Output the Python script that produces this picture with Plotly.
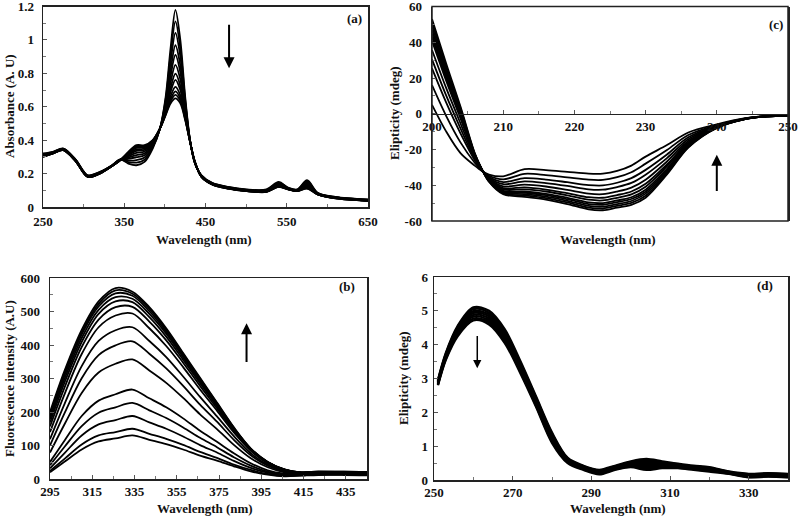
import plotly.graph_objects as go

# ---------------- Panel (a): UV-Vis absorbance ----------------
A_WL = [250, 262, 275, 290, 305, 320, 335, 345, 355, 365, 375, 385, 394, 401, 407, 413,
        419, 425, 431, 437, 445, 458, 478, 500, 525, 540, 552, 563, 575, 588, 610, 650]
A_CURVES = [
    [.32, .33, .35, .285, .19, .21, .25, .285, .26, .25, .27, .35, .47, .66, .95, 1.18, 1.0, .66, .40, .26, .19, .145, .12, .105, .105, .15, .115, .105, .16, .085, .06, .045],
    [.317, .329, .349, .284, .189, .209, .249, .284, .269, .266, .283, .357, .47, .646, .907, 1.111, .951, .642, .399, .261, .189, .144, .119, .104, .103, .146, .114, .104, .154, .084, .059, .044],
    [.315, .327, .347, .282, .187, .207, .249, .284, .278, .281, .296, .363, .47, .631, .864, 1.042, .901, .624, .397, .263, .187, .142, .117, .102, .101, .142, .112, .102, .147, .082, .058, .043],
    [.312, .326, .346, .281, .186, .206, .248, .283, .288, .298, .31, .37, .47, .616, .818, .968, .848, .604, .396, .264, .186, .141, .116, .101, .099, .138, .111, .101, .14, .081, .057, .042],
    [.31, .325, .345, .28, .185, .205, .247, .282, .296, .311, .321, .376, .47, .604, .782, .91, .806, .589, .395, .265, .185, .14, .115, .1, .097, .135, .11, .1, .134, .08, .056, .041],
    [.308, .324, .344, .279, .184, .204, .247, .282, .303, .324, .332, .381, .47, .592, .745, .851, .764, .573, .394, .266, .184, .139, .114, .099, .096, .131, .109, .099, .129, .079, .055, .04],
    [.306, .323, .343, .278, .183, .203, .246, .281, .31, .336, .342, .386, .47, .581, .712, .798, .726, .559, .393, .267, .183, .138, .113, .098, .094, .128, .108, .098, .124, .078, .054, .039],
    [.304, .322, .342, .277, .182, .202, .246, .281, .315, .345, .349, .39, .47, .573, .689, .761, .70, .549, .392, .268, .182, .137, .112, .097, .093, .126, .107, .097, .12, .077, .054, .039],
    [.303, .321, .341, .276, .181, .201, .246, .281, .321, .354, .357, .394, .47, .564, .663, .719, .669, .538, .391, .269, .181, .136, .111, .096, .092, .124, .106, .096, .117, .076, .053, .038],
    [.302, .321, .341, .276, .181, .201, .245, .28, .324, .36, .362, .396, .47, .559, .646, .692, .65, .531, .391, .269, .181, .136, .111, .096, .091, .122, .106, .096, .114, .076, .053, .038],
    [.301, .32, .34, .275, .18, .20, .245, .28, .327, .365, .366, .398, .47, .554, .633, .671, .635, .526, .39, .27, .18, .135, .11, .095, .091, .121, .105, .095, .112, .075, .052, .037],
    [.30, .32, .34, .275, .18, .20, .245, .28, .33, .37, .37, .40, .47, .55, .62, .65, .62, .52, .39, .27, .18, .135, .11, .095, .09, .12, .105, .095, .11, .075, .052, .037],
]
A_YTICKS = [0, 0.2, 0.4, 0.6, 0.8, 1.0, 1.2]
A_YTEXT = ["0", "0.2", "0.4", "0.6", "0.8", "1", "1.2"]

# ---------------- Panel (c): far-UV CD ----------------
C_WL = [200, 202, 204, 206, 207, 208, 210, 213, 216, 219, 222, 224, 226, 228, 230, 233, 236, 240, 244, 247, 250]
C_CURVES = [
    [53, 28, 4, -22, -31, -38, -45, -46.5, -48, -50.5, -53.5, -54, -52.5, -51, -47, -34, -19, -8, -3, -1.5, -1],
    [51.1, 26.5, 3.0, -22.3, -31.0, -37.8, -44.5, -45.7, -47.2, -49.6, -52.5, -53.0, -51.5, -49.9, -45.9, -33.2, -18.6, -7.9, -3.0, -1.5, -1],
    [48.9, 24.8, 1.8, -22.6, -31.1, -37.6, -44.0, -45.0, -46.4, -48.7, -51.5, -52.0, -50.5, -48.8, -44.7, -32.4, -18.2, -7.8, -3.0, -1.5, -1],
    [46.8, 23.1, 0.6, -22.9, -31.1, -37.4, -43.5, -44.2, -45.5, -47.8, -50.5, -50.9, -49.4, -47.7, -43.6, -31.5, -17.7, -7.7, -2.9, -1.5, -1],
    [44.8, 21.5, -0.4, -23.2, -31.2, -37.2, -43.1, -43.5, -44.8, -47.0, -49.6, -50.0, -48.5, -46.7, -42.5, -30.8, -17.3, -7.6, -2.9, -1.5, -1],
    [42.9, 20.0, -1.5, -23.5, -31.2, -36.9, -42.3, -42.3, -43.5, -45.6, -48.1, -48.5, -47.0, -45.1, -40.8, -29.5, -16.7, -7.5, -2.9, -1.4, -1],
    [40.8, 18.3, -2.6, -23.8, -31.3, -36.6, -41.6, -41.2, -42.4, -44.4, -46.7, -47.0, -45.5, -43.5, -39.2, -28.4, -16.1, -7.3, -2.8, -1.4, -1],
    [35.7, 14.3, -5.4, -24.5, -31.4, -36.2, -40.6, -39.7, -40.7, -42.6, -44.7, -45.0, -43.5, -41.3, -36.9, -26.7, -15.3, -7.1, -2.8, -1.4, -1],
    [30.4, 10.1, -8.2, -25.3, -31.5, -35.8, -39.4, -37.8, -38.8, -40.4, -42.3, -42.5, -41.0, -38.7, -34.1, -24.8, -14.2, -6.9, -2.7, -1.4, -1],
    [25.4, 6.2, -11.0, -26.0, -31.6, -35.3, -38.2, -36.0, -36.8, -38.3, -39.9, -40.1, -38.6, -36.0, -31.4, -22.8, -13.2, -6.6, -2.7, -1.4, -1],
    [16.0, -1.3, -16.0, -27.4, -31.8, -34.7, -36.7, -33.6, -34.3, -35.6, -36.9, -37.0, -35.5, -32.7, -27.9, -20.3, -11.9, -6.3, -2.6, -1.3, -1],
    [5, -10, -22, -29, -32, -34, -35, -31, -31.5, -32.5, -33.5, -33.5, -32, -29, -24, -17.5, -10.5, -6, -2.5, -1.3, -1],
]
C_YTICKS = [-60, -40, -20, 0, 20, 40, 60]
C_YTEXT = ["-60", "-40", "-20", "0", "20", "40", "60"]

# ---------------- Panel (b): fluorescence ----------------
B_WL = [295, 302, 310, 318, 326, 334, 342, 350, 358, 366, 374, 382, 390, 398, 406, 414, 422, 434, 445]
B_CURVES = [
    [20, 52, 88, 112, 121, 130, 117, 104, 88, 70, 55, 38, 23, 13, 8, 10, 12, 12, 11],
    [24, 61, 103, 130, 140, 150, 135, 120, 102, 81, 63, 43, 27, 15, 9, 11, 13, 13, 12],
    [32, 78, 130, 163, 176, 188, 169, 150, 127, 101, 79, 54, 33, 19, 11, 12, 14, 14, 13],
    [41, 97, 158, 198, 214, 227, 205, 182, 154, 123, 95, 65, 40, 22, 13, 13, 15, 15, 14],
    [51, 116, 188, 234, 253, 267, 241, 214, 181, 144, 111, 77, 47, 26, 16, 14, 16, 16, 15],
    [79, 165, 257, 318, 344, 357, 324, 287, 242, 193, 149, 102, 62, 35, 20, 15, 17, 17, 16],
    [100, 198, 301, 370, 399, 411, 374, 330, 278, 222, 171, 117, 71, 40, 23, 16, 18, 18, 17],
    [119, 226, 337, 412, 444, 453, 412, 364, 306, 245, 187, 128, 77, 43, 25, 17, 19, 18, 17],
    [140, 255, 373, 453, 488, 494, 450, 397, 334, 267, 204, 139, 84, 47, 27, 18, 19, 19, 18],
    [157, 275, 394, 476, 513, 514, 470, 414, 347, 278, 211, 144, 86, 48, 27, 18, 20, 20, 19],
    [169, 290, 409, 493, 530, 528, 483, 425, 356, 286, 217, 147, 88, 49, 28, 19, 21, 20, 19],
    [179, 301, 421, 505, 543, 538, 493, 434, 363, 291, 221, 149, 89, 50, 28, 19, 21, 21, 20],
    [187, 311, 431, 515, 554, 547, 501, 440, 368, 296, 224, 151, 90, 51, 28, 20, 22, 21, 20],
    [194, 319, 438, 523, 563, 553, 508, 446, 373, 299, 226, 153, 91, 51, 28, 20, 22, 22, 21],
    [200, 325, 445, 530, 570, 559, 513, 450, 376, 302, 228, 154, 91, 51, 29, 20, 22, 22, 21],
]

# ---------------- Panel (d): near-UV CD ----------------
D_WL = [251, 253, 256, 260, 264, 268, 272, 276, 280, 284, 288, 292, 296, 300, 304, 308, 312, 316, 320, 325, 330, 335, 340]
D_CURVES = [
    [2.95, 3.75, 4.55, 5.10, 5.00, 4.45, 3.50, 2.45, 1.40, 0.65, 0.42, 0.30, 0.42, 0.55, 0.62, 0.55, 0.48, 0.42, 0.38, 0.25, 0.18, 0.20, 0.18],
    [2.93, 3.72, 4.51, 5.05, 4.94, 4.39, 3.45, 2.41, 1.36, 0.63, 0.40, 0.28, 0.40, 0.53, 0.57, 0.52, 0.46, 0.40, 0.36, 0.24, 0.17, 0.19, 0.17],
    [2.91, 3.69, 4.46, 4.99, 4.89, 4.34, 3.40, 2.36, 1.31, 0.61, 0.39, 0.26, 0.39, 0.50, 0.53, 0.49, 0.44, 0.39, 0.34, 0.23, 0.15, 0.17, 0.15],
    [2.89, 3.66, 4.42, 4.94, 4.83, 4.28, 3.35, 2.32, 1.27, 0.59, 0.37, 0.24, 0.37, 0.48, 0.48, 0.46, 0.42, 0.37, 0.32, 0.22, 0.14, 0.16, 0.14],
    [2.86, 3.64, 4.38, 4.88, 4.77, 4.22, 3.30, 2.28, 1.23, 0.56, 0.35, 0.23, 0.35, 0.45, 0.44, 0.44, 0.41, 0.35, 0.31, 0.21, 0.12, 0.14, 0.12],
    [2.84, 3.61, 4.34, 4.83, 4.71, 4.16, 3.25, 2.24, 1.19, 0.54, 0.33, 0.21, 0.33, 0.43, 0.39, 0.41, 0.39, 0.33, 0.29, 0.20, 0.11, 0.13, 0.11],
    [2.82, 3.58, 4.29, 4.77, 4.66, 4.11, 3.20, 2.19, 1.14, 0.52, 0.32, 0.19, 0.32, 0.40, 0.35, 0.38, 0.37, 0.32, 0.27, 0.19, 0.09, 0.11, 0.09],
    [2.80, 3.55, 4.25, 4.72, 4.60, 4.05, 3.15, 2.15, 1.10, 0.50, 0.30, 0.17, 0.30, 0.38, 0.30, 0.35, 0.35, 0.30, 0.25, 0.18, 0.08, 0.10, 0.08],
]

SERIF = "Liberation Serif"
TICKFONT = dict(family=SERIF, size=13, color="#111", weight="bold")

fig = go.Figure()


def add_panel(wl, curves, xa, ya, width):
    for c in curves:
        fig.add_trace(go.Scatter(
            x=wl, y=c, mode="lines", xaxis=xa, yaxis=ya,
            line=dict(color="black", width=width, shape="spline", smoothing=0.9),
            hoverinfo="skip", showlegend=False))


add_panel(A_WL, A_CURVES, "x", "y", 1.8)
add_panel(C_WL, C_CURVES, "x2", "y2", 1.8)
add_panel(B_WL, B_CURVES, "x3", "y3", 1.8)
add_panel(D_WL, D_CURVES, "x4", "y4", 2.4)


def ax(domain, rng, dtick, tick0, minor_dtick, anchor, mirror=True, **kw):
    d = dict(domain=domain, range=rng, dtick=dtick, tick0=tick0, anchor=anchor,
             automargin=False, ticklabeloverflow="allow",
             showgrid=False, zeroline=False, showline=True, mirror=mirror,
             linecolor="#222", linewidth=1.5, ticks="inside", ticklen=4,
             tickcolor="#555", tickwidth=1, tickfont=TICKFONT,
             minor=dict(ticks="inside", ticklen=3, dtick=minor_dtick, tick0=tick0,
                        tickcolor="#777", showgrid=False))
    d.update(kw)
    return d


def px_x(p):
    return p / 800.0


def px_y(p):
    return 1 - p / 518.0


fig.update_layout(
    width=800, height=518, margin=dict(l=0, r=0, t=0, b=0),
    paper_bgcolor="white", plot_bgcolor="white", showlegend=False,
    xaxis=ax([px_x(43), px_x(368)], [250, 650], 100, 250, 50, "y", ticklabelstandoff=2),
    yaxis=ax([px_y(207), px_y(6.5)], [0, 1.2], None, None, 0.1, "x",
             tickmode="array", tickvals=A_YTICKS, ticktext=A_YTEXT, ticklabelstandoff=5),
    xaxis2=ax([px_x(432), px_x(788)], [200, 250], 10, 200, 5, "free", mirror=False,
              position=(px_y(221) + px_y(6.5)) / 2),
    yaxis2=ax([px_y(221), px_y(6.5)], [-60, 60], None, None, 10, "x2",
              tickmode="array", tickvals=C_YTICKS, ticktext=C_YTEXT, ticklabelstandoff=6),
    xaxis3=ax([px_x(50), px_x(367)], [295, 445], 20, 295, 10, "y3"),
    yaxis3=ax([px_y(479), px_y(278)], [0, 600], 100, 0, 50, "x3", ticklabelstandoff=6),
    xaxis4=ax([px_x(434), px_x(788)], [250, 340], 20, 250, 10, "y4"),
    yaxis4=ax([px_y(480), px_y(277)], [0, 6], 1, 0, 0.5, "x4", ticklabelstandoff=2),
)
fig.layout.yaxis.minor.tick0 = 0
fig.layout.yaxis2.minor.tick0 = -60

# frame for panel (c)
fig.add_shape(type="rect", xref="x2 domain", yref="y2 domain", x0=0, x1=1, y0=0, y1=1,
              line=dict(color="#222", width=1.5), fillcolor="rgba(0,0,0,0)")


def txt(text, x, y, angle=0, size=13):
    fig.add_annotation(text="<b>%s</b>" % text, x=px_x(x), y=px_y(y), xref="paper", yref="paper",
                       showarrow=False, textangle=angle, xanchor="center", yanchor="middle",
                       font=dict(family=SERIF, size=size, color="#111"))


txt("Absorbance (A. U)", 9, 106, -90)
txt("Wavelength (nm)", 204, 240)
txt("Elipticity (mdeg)", 394, 113, -90)
txt("Wavelength (nm)", 608, 240)
txt("Fluorescence intensity (A.U)", 9, 379, -90)
txt("Wavelength (nm)", 205, 508)
txt("Elipticity (mdeg)", 403, 378, -90)
txt("Wavelength (nm)", 618, 508)

txt("(a)", 354, 18)
txt("(c)", 776, 24)
txt("(b)", 347, 286)
txt("(d)", 765, 285)


def arrow(xr, yr, x, y, ax_, ay_, width=2):
    fig.add_annotation(x=x, y=y, ax=ax_, ay=ay_, xref=xr, yref=yr, axref=xr, ayref=yr,
                       text="", showarrow=True, arrowhead=2, arrowsize=1.1,
                       arrowwidth=width, arrowcolor="black")


arrow("x", "y", 479, 0.83, 479, 1.10)
arrow("x2", "y2", 240, -23, 240, -44)
arrow("x3", "y3", 388, 465, 388, 345)
arrow("x4", "y4", 261, 3.3, 261, 4.3, width=1.5)

fig.write_html("out.html", config={"displayModeBar": False, "staticPlot": True},
               post_script="document.body.style.margin='0';document.body.style.padding='0';"
                           "document.documentElement.style.overflow='hidden';")
